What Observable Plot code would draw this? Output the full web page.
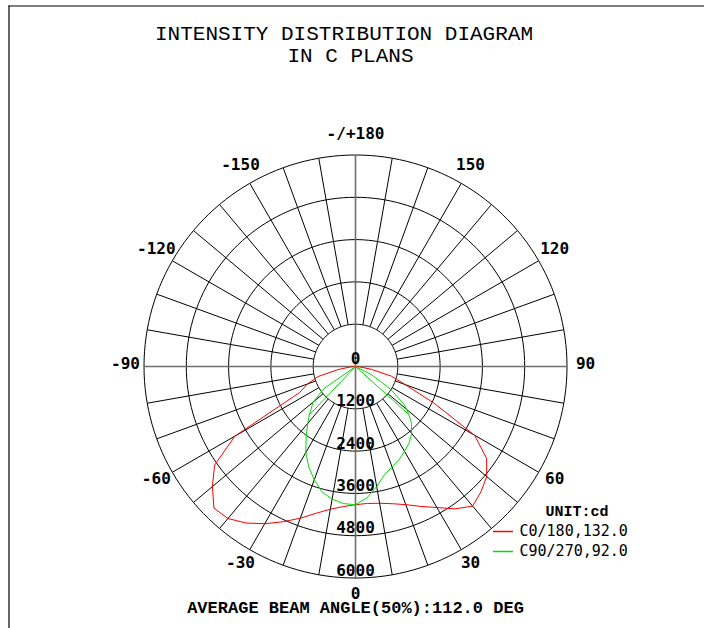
<!DOCTYPE html>
<html><head><meta charset="utf-8">
<script src="https://cdn.jsdelivr.net/npm/d3@7"></script>
<script src="https://cdn.jsdelivr.net/npm/@observablehq/plot@0.6"></script>
<style>body{margin:0;background:#fff}</style>
</head><body><div id="chart"></div>
<script>
// ---- data ----
const titleLines = ["INTENSITY DISTRIBUTION DIAGRAM", "IN C PLANS"];
const footerText = "AVERAGE BEAM ANGLE(50%):112.0 DEG";
const unitText = "UNIT:cd";
const seriesNames = ["C0/180,132.0", "C90/270,92.0"];
const seriesColors = ["#ff0000", "#00e000"];
const ringValues = [1200, 2400, 3600, 4800, 6000];
const ringTickValues = [0, 1200, 2400, 3600, 4800, 6000];
const angleTicks = [0, 30, 60, 90, 120, 150, 180, -150, -120, -90, -60, -30];
const angleLabels = ["0", "30", "60", "90", "120", "150", "-/+180", "-150", "-120", "-90", "-60", "-30"];
// C0/180 plane: gamma angle (deg, negative = C180 side) and intensity (cd)
const c0Angles = [-90,-85,-80,-75,-70,-65,-60,-55,-50,-45,-40,-35,-30,-25,-20,-15,-10,-5,0,5,10,15,20,25,30,35,40,45,50,55,60,65,70,75,80,85,90];
const c0Values = [0,150,500,1100,1450,1750,3950,4880,5300,5680,5630,5420,5150,4860,4580,4310,4110,3990,3920,3900,3940,4030,4170,4380,4620,4930,5170,5030,4860,4540,3900,2450,1500,1050,450,120,0];
// C90/270 plane, in drawing order
const c90Angles = [-43.6,-90,-55,-50,-43.6,-40,-35,-30,-25,-20,-15,-10,-5,0,5,10,15,20,25,30,35,40,45,48,52,57,63,90,48];
const c90Values = [1900,0,1100,1570,1900,2110,2440,2820,3140,3420,3680,3820,3905,3920,3740,3460,3180,3030,2920,2780,2650,2480,2240,2030,1760,1200,500,0,2030];

// ---- layout ----
const W = 704, H = 628, CX = 355, CY = 366, R = 211.5, VMAX = 6000;
const k = VMAX / R;
const lx = p => (p - CX) * k;   // pixel -> data x
const ly = p => (CY - p) * k;   // pixel -> data y
const rad = a => a * Math.PI / 180;
const px = (a, v) => v * Math.sin(rad(a));
const py = (a, v) => -v * Math.cos(rad(a));

const ringPts = ringValues.flatMap(v => d3.range(0, 361, 2).map(a => ({v, x: px(a, v), y: py(a, v)})));
const spokes = d3.range(0, 360, 10).filter(a => a % 90 !== 0)
  .map(a => ({x1: px(a, ringValues[0]), y1: py(a, ringValues[0]), x2: px(a, VMAX), y2: py(a, VMAX)}));
const axesL = [0, 90].map(a => ({x1: px(a, VMAX), y1: py(a, VMAX), x2: px(a + 180, VMAX), y2: py(a + 180, VMAX)}));
const c0 = c0Angles.map((a, i) => ({x: px(a, c0Values[i]), y: py(a, c0Values[i])}));
const c90 = c90Angles.map((a, i) => ({x: px(a, c90Values[i]), y: py(a, c90Values[i])}));
const LR = 230 * k;

const mono = "DejaVu Sans Mono";
const courier = "Liberation Mono";
const fixedText = (txt, dx, dy, opts) => Plot.text([txt], Object.assign({frameAnchor: "top-left", dx, dy, text: d => d, lineAnchor: "middle", fill: "black"}, opts));

const chart = Plot.plot({
  width: W, height: H, margin: 0,
  x: {domain: [lx(0), lx(W)], axis: null},
  y: {domain: [ly(H), ly(0)], axis: null},
  style: {background: "#fff"},
  marks: [
    Plot.ruleY([ly(5.5)], {x1: lx(8.5), x2: lx(W), stroke: "#000", strokeWidth: 1.2}),
    Plot.ruleX([lx(8.5)], {y1: ly(5.5), y2: ly(H), stroke: "#000", strokeWidth: 1.2}),
    Plot.line(ringPts, {x: "x", y: "y", z: "v", stroke: "#000", strokeWidth: 1}),
    Plot.link(spokes, {x1: "x1", y1: "y1", x2: "x2", y2: "y2", stroke: "#000", strokeWidth: 1}),
    Plot.link(axesL, {x1: "x1", y1: "y1", x2: "x2", y2: "y2", stroke: "#6e6e6e", strokeWidth: 1.6}),
    Plot.line(c0, {x: "x", y: "y", stroke: seriesColors[0], strokeWidth: 1}),
    Plot.line(c90, {x: "x", y: "y", stroke: seriesColors[1], strokeWidth: 1}),
    Plot.text(ringTickValues, {x: 0, y: d => -d, text: d => String(d), dy: -7.5, lineAnchor: "middle",
      fontFamily: mono, fontWeight: "bold", fontSize: 16, fill: "#000"}),
    Plot.text(angleTicks, {x: a => px(a, LR), y: a => py(a, LR), text: (a, i) => angleLabels[i], dy: -2.5,
      lineAnchor: "middle", fontFamily: mono, fontWeight: "bold", fontSize: 16, fill: "#000"}),
    fixedText(titleLines[0], 343.5, 32.5, {fontFamily: courier, fontSize: 21, textAnchor: "middle"}),
    fixedText(titleLines[1], 350, 55, {fontFamily: courier, fontSize: 21, textAnchor: "middle"}),
    fixedText(footerText, 355, 607, {fontFamily: courier, fontWeight: "bold", fontSize: 17, textAnchor: "middle"}),
    fixedText(unitText, 576.5, 511, {fontFamily: courier, fontWeight: "bold", fontSize: 15, textAnchor: "middle"}),
    Plot.ruleY([ly(531)], {x1: lx(493), x2: lx(513), stroke: seriesColors[0], strokeWidth: 1.5}),
    Plot.ruleY([ly(551)], {x1: lx(493), x2: lx(513), stroke: seriesColors[1], strokeWidth: 1.5}),
    Plot.text([0, 1], {x: lx(519), y: i => ly(531 + 19.5 * i), text: i => seriesNames[i], textAnchor: "start",
      lineAnchor: "middle", fontFamily: mono, fontSize: 15, fill: "#000"})
  ]
});
document.getElementById("chart").append(chart);
</script>
</body></html>
